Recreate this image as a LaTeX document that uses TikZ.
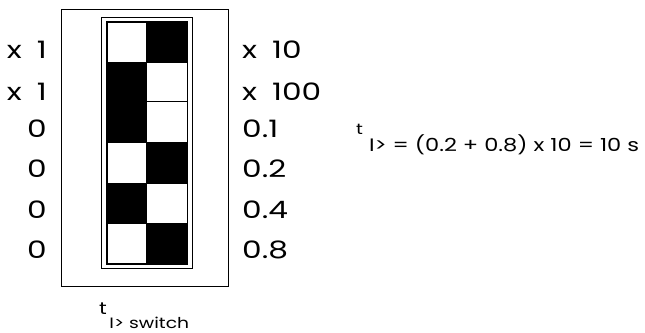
\documentclass[tikz,border=0pt]{standalone}
\usepackage{fontspec}
\setmainfont{Poppins}[FakeStretch=1.3,WordSpace=1.8]
\newfontfamily\eqfont{Poppins}[FakeStretch=1.25]
\begin{document}
\begin{tikzpicture}[x=1pt,y=-1pt,
  lbl/.style={inner sep=0pt, font=\fontsize{24}{24}\selectfont},
  wcell/.style={draw=black, fill=white, line width=0.8pt},
  bcell/.style={fill=black, draw=black, line width=0.8pt},
  frame/.style={draw=black, line width=1pt}]
\useasboundingbox (0,0) rectangle (645,332);
% housing and double frame
\draw[frame] (61,9) rectangle (228,286);
\draw[frame] (101,17) rectangle (192,268);
\draw[frame] (106,21) rectangle (187,264);
% switch cells
\draw[wcell] (107,22) rectangle (146,62);
\draw[bcell] (146,22) rectangle (187,62);
\draw[bcell] (107,62) rectangle (146,101);
\draw[wcell] (146,62) rectangle (187,101);
\draw[bcell] (107,101) rectangle (146,142);
\draw[wcell] (146,101) rectangle (187,142);
\draw[wcell] (107,142) rectangle (146,183);
\draw[bcell] (146,142) rectangle (187,183);
\draw[bcell] (107,183) rectangle (146,223);
\draw[wcell] (146,183) rectangle (187,223);
\draw[wcell] (107,223) rectangle (146,263);
\draw[bcell] (146,223) rectangle (187,263);
% left labels
\node[lbl, anchor=base east] (l1) at (47,58) {x 1};
\node[lbl, anchor=base east] (l2) at (47,100) {x 1};
\node[lbl, anchor=base east] (l3) at (47,137) {0};
\node[lbl, anchor=base east] (l4) at (47,177) {0};
\node[lbl, anchor=base east] (l5) at (47,218) {0};
\node[lbl, anchor=base east] (l6) at (47,258) {0};
% right labels
\node[lbl, anchor=base west] (r1) at (242,58) {x 10};
\node[lbl, anchor=base west] (r2) at (242,100) {x 100};
\node[lbl, anchor=base west] (r3) at (242,137) {0.1};
\node[lbl, anchor=base west] (r4) at (242,177) {0.2};
\node[lbl, anchor=base west] (r5) at (242,218) {0.4};
\node[lbl, anchor=base west] (r6) at (242,258) {0.8};
% equation
\node[inner sep=0pt, anchor=base west, font=\eqfont\fontsize{18}{18}\selectfont] (eq) at (356,151)
  {\raisebox{17pt}{\fontsize{15}{15}\selectfont t}\,\,I> = (0.2 + 0.8) x 10 = 10 s};
% caption
\node[inner sep=0pt, anchor=base west, font=\eqfont\fontsize{15}{15}\selectfont] (cap) at (99,328)
  {\raisebox{14pt}{\fontsize{17}{17}\selectfont t}\,I> switch};
\end{tikzpicture}
\end{document}
